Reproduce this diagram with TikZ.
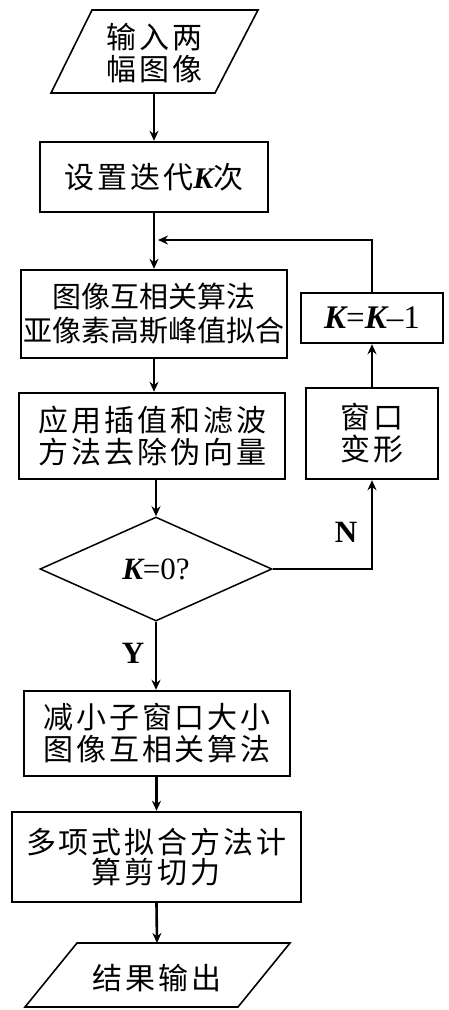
\documentclass[tikz,border=0pt]{standalone}
\usepackage{fontspec}
\setmainfont{Liberation Serif}
\newfontfamily\cj[LetterSpace=10]{Noto Sans CJK SC}
\newfontfamily\cjn{Noto Sans CJK SC}
\usetikzlibrary{shapes.geometric,arrows.meta}
\newcommand{\KK}{{\rmfamily\bfseries\itshape K}}
\begin{document}
\begin{tikzpicture}[x=1pt,y=-1pt,
  box/.style={draw,line width=2.4pt,inner sep=0pt,align=center,font=\fontsize{30}{32}\selectfont\cj},
  txt/.style={inner sep=0pt,align=center,font=\fontsize{30}{32}\selectfont\cj},
  para/.style={line width=1.6pt,line join=miter},
  dia/.style={draw,diamond,line width=1.5pt,inner sep=0pt,minimum width=232pt,minimum height=104pt,font=\fontsize{31}{32}\selectfont},
  conn/.style={line width=2.6pt,-{Stealth[length=10pt,width=9pt]}},
  lconn/.style={line width=1.8pt,-{Stealth[length=10pt,width=9pt]}},
  lab/.style={inner sep=0pt,font=\fontsize{31}{32}\selectfont\bfseries}]
\useasboundingbox (0,0) rectangle (448,1010);
% input parallelogram
\draw[para] (92,10) -- (258,10) -- (215,93) -- (51,93) -- cycle;
\node[txt] (in) at (154,53) {输入两\\幅图像};
\coordinate (inS) at (154,93);
% boxes
\node[box,minimum width=228pt,minimum height=70pt] (set) at (154,177) {设置迭代\KK{}次};
\node[box,minimum width=266pt,minimum height=88pt,font=\fontsize{29}{34}\selectfont\cjn] (corr) at (154,314) {图像互相关算法\\亚像素高斯峰值拟合};
\node[box,minimum width=266pt,minimum height=86pt] (filt) at (152,436) {应用插值和滤波\\方法去除伪向量};
\node[box,minimum width=142pt,minimum height=50pt,font=\fontsize{33}{34}\selectfont] (kbox) at (372,318) {\KK=\KK\textendash1};
\node[box,minimum width=132pt,minimum height=91pt] (win) at (372,433.5) {窗口\\变形};
\node[dia] (dec) at (156,569) {\KK=0?};
\node[box,minimum width=266pt,minimum height=85pt] (red) at (157,733.5) {减小子窗口大小\\图像互相关算法};
\node[box,minimum width=289pt,minimum height=90pt,font=\fontsize{30}{30}\selectfont\cj] (poly) at (156.5,857) {多项式拟合方法计\\算剪切力};
% output parallelogram
\draw[para] (77,943) -- (290,943) -- (238,1007) -- (25,1007) -- cycle;
\node[txt] (out) at (157,978) {结果输出};
\coordinate (outN) at (157,943);
\coordinate (loop) at (158,240);
% connectors
\draw[conn] (inS) -- (set);
\draw[conn] (set) -- (corr);
\draw[conn] (corr.south) -- (corr.south |- filt.north);
\draw[conn] (dec.north |- filt.south) -- (dec.north);
\draw[conn] (dec.south) -- (dec.south |- red.north);
\draw[conn] (poly.north |- red.south) -- (poly.north);
\draw[conn] (poly.south) -- (outN);
\draw[lconn] (dec.east) -- (dec.east -| win.south) -- (win.south);
\draw[lconn] (win) -- (kbox);
\draw[lconn] (kbox.north) |- (loop);
% labels
\node[lab] (nlab) at (346,532) {N};
\node[lab] (ylab) at (133,653) {Y};
\end{tikzpicture}
\end{document}
